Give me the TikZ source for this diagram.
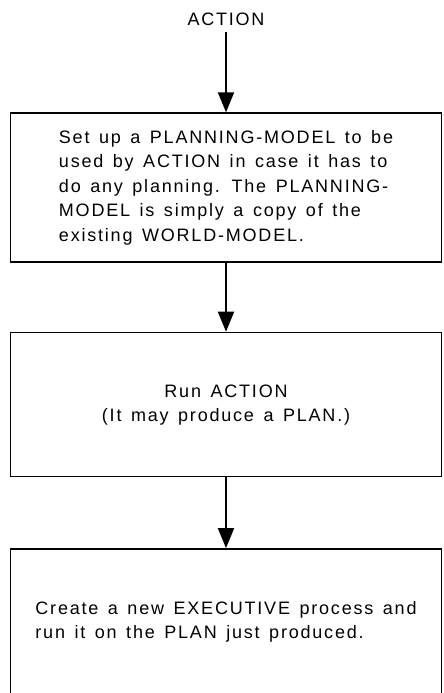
\documentclass[tikz,border=0pt]{standalone}
\usepackage{fontspec}
\setmainfont{Liberation Sans}[LetterSpace=10, WordSpace=1.4]
\usetikzlibrary{arrows.meta, positioning}

\begin{document}
\begin{tikzpicture}[
    x=1pt, y=1pt,
    node distance=69pt,
    font=\fontsize{18}{24.5}\selectfont,
    stepbox/.style={rectangle, draw=black, line width=1.4pt, minimum width=431pt, inner sep=0pt},
    arrow/.style={-{Triangle[width=16pt, length=20pt]}, line width=2pt}
]
\useasboundingbox (0,0) rectangle (444,-693);
\node[anchor=base, inner sep=6pt] (title) at (226,-26) {ACTION};
\node[stepbox, minimum height=149pt] (setup) at (226,-187.5) {%
  \begin{tabular}{@{}l@{}}
  Set up a PLANNING-MODEL to be\\
  used by ACTION in case it has to\\
  do any planning. The PLANNING-\\
  MODEL is simply a copy of the\\
  existing WORLD-MODEL.
  \end{tabular}};
\node[stepbox, minimum height=144pt, below=of setup] (run) {%
  \begin{tabular}{@{}c@{}}
  Run ACTION\\
  (It may produce a PLAN.)
  \end{tabular}};
\node[stepbox, minimum height=146pt, below=71pt of run] (exec) {%
  \begin{tabular}{@{}l@{}}
  Create a new EXECUTIVE process and\\
  run it on the PLAN just produced.
  \end{tabular}};

\draw[arrow] (title) -- (setup);
\draw[arrow] (setup) -- (run);
\draw[arrow] (run) -- (exec);
\end{tikzpicture}
\end{document}
